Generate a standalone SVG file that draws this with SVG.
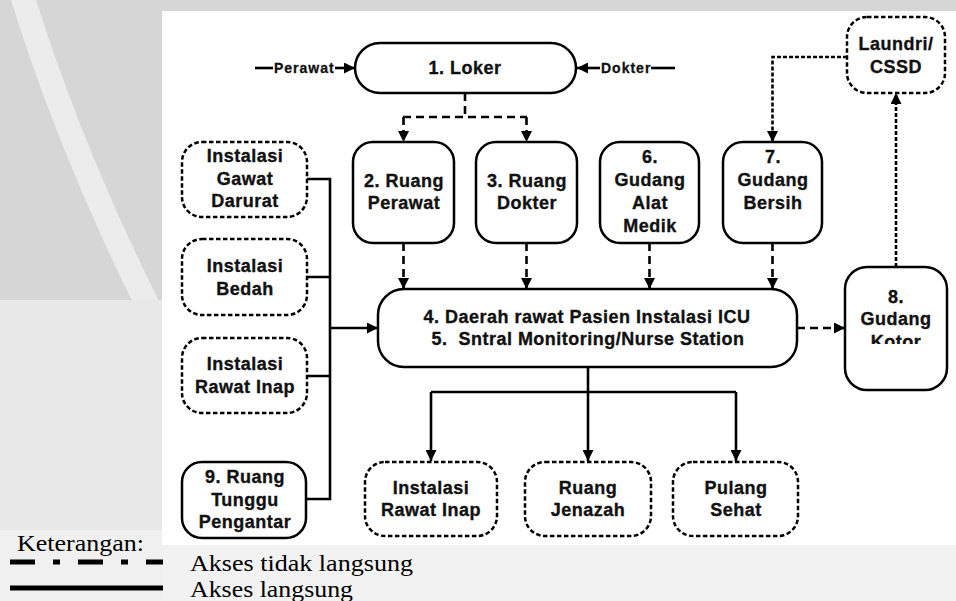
<svg xmlns="http://www.w3.org/2000/svg" width="956" height="601" viewBox="0 0 956 601">
<defs>
<style>
.n{fill:#fff;stroke:#000;stroke-width:2.5}
.d{stroke-dasharray:4.5 2.5}
.t{font-family:"Liberation Sans",Arial,sans-serif;font-weight:bold;font-size:18px;letter-spacing:0.5px;text-anchor:middle;fill:#111;stroke:#111;stroke-width:0.35px}
.s{font-family:"Liberation Sans",Arial,sans-serif;font-weight:bold;font-size:14px;letter-spacing:1px;fill:#111;stroke:#111;stroke-width:0.3px}
.c{fill:none;stroke:#000;stroke-width:2.6}
.dash{stroke-dasharray:8 5}
.dot{stroke-dasharray:4 2}
.lg{font-family:"Liberation Serif","Times New Roman",serif;font-size:23px;fill:#000}
</style>
<marker id="a" viewBox="0 0 10 10" markerUnits="userSpaceOnUse" markerWidth="11" markerHeight="11" refX="10" refY="5" orient="auto">
<path d="M0,0 L10,5 L0,10 z" fill="#000"/>
</marker>
<clipPath id="kc"><rect x="840" y="260" width="120" height="84"/></clipPath>
</defs>

<g id="background">
<rect width="956" height="601" fill="#d6d6d6"/>
<path d="M22,-5 Q70,150 150,310" fill="none" stroke="#ececec" stroke-width="24"/>
<rect x="0" y="300" width="162" height="301" fill="#e8e8e8"/>
<rect x="162" y="545" width="794" height="56" fill="#f2f2f2"/>
<rect x="0" y="530" width="162" height="71" fill="#f0f0f0"/>
<rect x="162" y="11" width="794" height="534" fill="#fff"/>
</g>

<g id="connectors">
<line class="c" x1="255" y1="68" x2="273" y2="68" stroke-width="2"/>
<line class="c" x1="335" y1="68" x2="355" y2="68" stroke-width="2" marker-end="url(#a)"/>
<line class="c" x1="600" y1="68" x2="577" y2="68" stroke-width="2" marker-end="url(#a)"/>
<line class="c" x1="651" y1="68" x2="675" y2="68" stroke-width="2"/>
<path class="c dash" d="M465,93 V117"/>
<path class="c dash" d="M403,117 H527"/>
<path class="c dash" d="M403.5,117 V142" marker-end="url(#a)"/>
<path class="c dash" d="M526.5,117 V142" marker-end="url(#a)"/>
<path class="c dash" d="M403.5,243 V289" marker-end="url(#a)"/>
<path class="c dash" d="M526.5,243 V289" marker-end="url(#a)"/>
<path class="c dash" d="M649.5,243 V289" marker-end="url(#a)"/>
<path class="c dash" d="M772.5,243 V289" marker-end="url(#a)"/>
<path class="c dash" d="M797,328 H845" marker-end="url(#a)"/>
<path class="c dot" d="M847,57 H772.5 V142" marker-end="url(#a)"/>
<path class="c dot" d="M896,267 V93" marker-end="url(#a)"/>
<path class="c" d="M307,179 H330 M307,277 H330 M307,376 H330 M306,499 H330 M330,177.7 V500.3"/>
<path class="c" d="M330,328 H378" marker-end="url(#a)"/>
<path class="c" d="M588,367 V461" marker-end="url(#a)"/>
<path class="c" d="M431,392 H736"/>
<path class="c" d="M431,392 V461" marker-end="url(#a)"/>
<path class="c" d="M736,392 V461" marker-end="url(#a)"/>
</g>

<g id="lbl-perawat"><text class="s" x="274" y="73">Perawat</text></g>
<g id="lbl-dokter"><text class="s" x="601" y="73">Dokter</text></g>

<g id="loker">
<rect class="n" x="355" y="43" width="221" height="50" rx="25"/>
<text class="t" x="465" y="74">1. Loker</text>
</g>

<g id="ruang-perawat">
<rect class="n" x="353" y="142" width="101" height="101" rx="20"/>
<text class="t" x="404" y="187">2. Ruang</text>
<text class="t" x="404" y="209">Perawat</text>
</g>

<g id="ruang-dokter">
<rect class="n" x="476" y="142" width="101" height="101" rx="20"/>
<text class="t" x="527" y="187">3. Ruang</text>
<text class="t" x="527" y="209">Dokter</text>
</g>

<g id="gudang-alat-medik">
<rect class="n" x="600" y="142" width="99" height="101" rx="20"/>
<text class="t" x="650" y="163">6.</text>
<text class="t" x="650" y="186">Gudang</text>
<text class="t" x="650" y="209">Alat</text>
<text class="t" x="650" y="232">Medik</text>
</g>

<g id="gudang-bersih">
<rect class="n" x="723" y="142" width="99" height="101" rx="20"/>
<text class="t" x="773" y="163">7.</text>
<text class="t" x="773" y="186">Gudang</text>
<text class="t" x="773" y="209">Bersih</text>
</g>

<g id="laundri-cssd">
<rect class="n d" x="847" y="17" width="98" height="76" rx="20"/>
<text class="t" x="896" y="50">Laundri/</text>
<text class="t" x="896" y="73">CSSD</text>
</g>

<g id="gudang-kotor">
<rect class="n" x="845" y="267" width="102" height="123" rx="22"/>
<text class="t" x="896" y="303">8.</text>
<text class="t" x="896" y="325">Gudang</text>
<text class="t" x="896" y="348" clip-path="url(#kc)">Kotor</text>
</g>

<g id="icu">
<rect class="n" x="378" y="289" width="419" height="78" rx="26"/>
<text class="t" x="587" y="323" textLength="327" lengthAdjust="spacingAndGlyphs">4. Daerah rawat Pasien Instalasi ICU</text>
<text class="t" x="588" y="345" style="white-space:pre" textLength="313" lengthAdjust="spacingAndGlyphs">5.  Sntral Monitoring/Nurse Station</text>
</g>

<g id="igd">
<rect class="n d" x="182" y="142" width="125" height="75" rx="20"/>
<text class="t" x="245" y="162">Instalasi</text>
<text class="t" x="245" y="185">Gawat</text>
<text class="t" x="245" y="207">Darurat</text>
</g>

<g id="bedah">
<rect class="n d" x="182" y="239" width="125" height="76" rx="20"/>
<text class="t" x="245" y="272">Instalasi</text>
<text class="t" x="245" y="295">Bedah</text>
</g>

<g id="rawat-inap-left">
<rect class="n d" x="182" y="338" width="125" height="75" rx="20"/>
<text class="t" x="245" y="370">Instalasi</text>
<text class="t" x="245" y="393">Rawat Inap</text>
</g>

<g id="ruang-tunggu">
<rect class="n" x="182" y="462" width="124" height="76" rx="20"/>
<text class="t" x="245" y="483">9. Ruang</text>
<text class="t" x="245" y="506">Tunggu</text>
<text class="t" x="245" y="528">Pengantar</text>
</g>

<g id="rawat-inap-bottom">
<rect class="n d" x="365" y="462" width="132" height="74" rx="20"/>
<text class="t" x="431" y="494">Instalasi</text>
<text class="t" x="431" y="516">Rawat Inap</text>
</g>

<g id="ruang-jenazah">
<rect class="n d" x="525" y="462" width="126" height="74" rx="20"/>
<text class="t" x="588" y="494">Ruang</text>
<text class="t" x="588" y="516">Jenazah</text>
</g>

<g id="pulang-sehat">
<rect class="n d" x="673" y="462" width="125" height="74" rx="20"/>
<text class="t" x="736" y="494">Pulang</text>
<text class="t" x="736" y="516">Sehat</text>
</g>

<g id="legend">
<text class="lg" x="17" y="551" textLength="127" lengthAdjust="spacingAndGlyphs">Keterangan:</text>
<line x1="10" y1="562" x2="163" y2="562" stroke="#000" stroke-width="5" stroke-dasharray="25 18 7 18"/>
<line x1="10" y1="588" x2="163" y2="588" stroke="#000" stroke-width="5"/>
<text class="lg" x="190" y="571" textLength="223" lengthAdjust="spacingAndGlyphs">Akses tidak langsung</text>
<text class="lg" x="190" y="597" textLength="163" lengthAdjust="spacingAndGlyphs">Akses langsung</text>
</g>
</svg>
